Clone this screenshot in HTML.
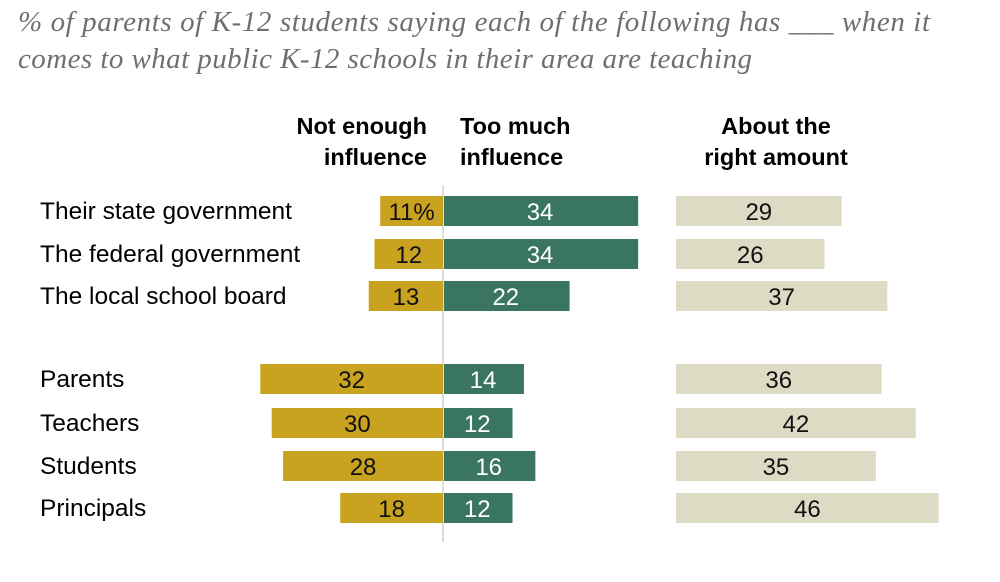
<!DOCTYPE html>
<html><head><meta charset="utf-8"><style>
body{margin:0;background:#fff;width:1000px;height:577px;overflow:hidden;font-family:"Liberation Sans",sans-serif}
</style></head><body>
<svg id="chart" width="1000" height="577" xmlns="http://www.w3.org/2000/svg">
<text font-family="Liberation Serif,serif" font-style="italic" font-size="29" fill="#6f6f6f"><tspan x="18" y="31" textLength="912" lengthAdjust="spacing">% of parents of K-12 students saying each of the following has ___ when it</tspan><tspan x="18" y="68" textLength="734" lengthAdjust="spacing">comes to what public K-12 schools in their area are teaching</tspan></text>
<g font-weight="bold" font-size="23.5" fill="#000">
<text text-anchor="end"><tspan x="427" y="134">Not enough</tspan><tspan x="427" y="165">influence</tspan></text>
<text><tspan x="460" y="134">Too much</tspan><tspan x="460" y="165">influence</tspan></text>
<text text-anchor="middle"><tspan x="776" y="134">About the</tspan><tspan x="776" y="165">right amount</tspan></text>
</g>
<line x1="443" y1="185" x2="443" y2="542" stroke="#bbb" stroke-width="1"/>
<g id="bars"></g>
</svg>
<script>
const categories=["Their state government","The federal government","The local school board","Parents","Teachers","Students","Principals"];
const notEnough=[11,12,13,32,30,28,18];
const tooMuch=[34,34,22,14,12,16,12];
const rightAmount=[29,26,37,36,42,35,46];
const rowY=[211,254,296,379,423,466,508];
const ns="http://www.w3.org/2000/svg";
const g=document.getElementById('bars');
const k=5.71, cx=443, rx=676, h=30;
function el(t,a){const e=document.createElementNS(ns,t);for(const n in a)e.setAttribute(n,a[n]);g.appendChild(e);return e;}
categories.forEach((c,i)=>{
  const y=rowY[i];
  const lab=el('text',{x:40,y:y+8,'font-size':24.5,fill:'#000'});lab.textContent=c;
  
  
  const w1=notEnough[i]*k;
  const b1=el('rect',{x:cx-w1,y:y-h/2,width:w1,height:h,fill:'#c9a21f'});
  
  
  const t1=el('text',{x:cx-w1/2,y:y+9,'font-size':24,fill:'#111','text-anchor':'middle'});t1.textContent=notEnough[i]+(i===0?'%':'');
  
  
  const w2=tooMuch[i]*k;
  const b2=el('rect',{x:cx+1,y:y-h/2,width:w2,height:h,fill:'#3a7562'});
  
  
  const t2=el('text',{x:cx+w2/2,y:y+9,'font-size':24,fill:'#fff','text-anchor':'middle'});t2.textContent=tooMuch[i];
  
  
  const w3=rightAmount[i]*k;
  const b3=el('rect',{x:rx,y:y-h/2,width:w3,height:h,fill:'#dedbc5'});
  
  
  const t3=el('text',{x:rx+w3/2,y:y+9,'font-size':24,fill:'#111','text-anchor':'middle'});t3.textContent=rightAmount[i];
  
  
});
</script>
</body></html>
